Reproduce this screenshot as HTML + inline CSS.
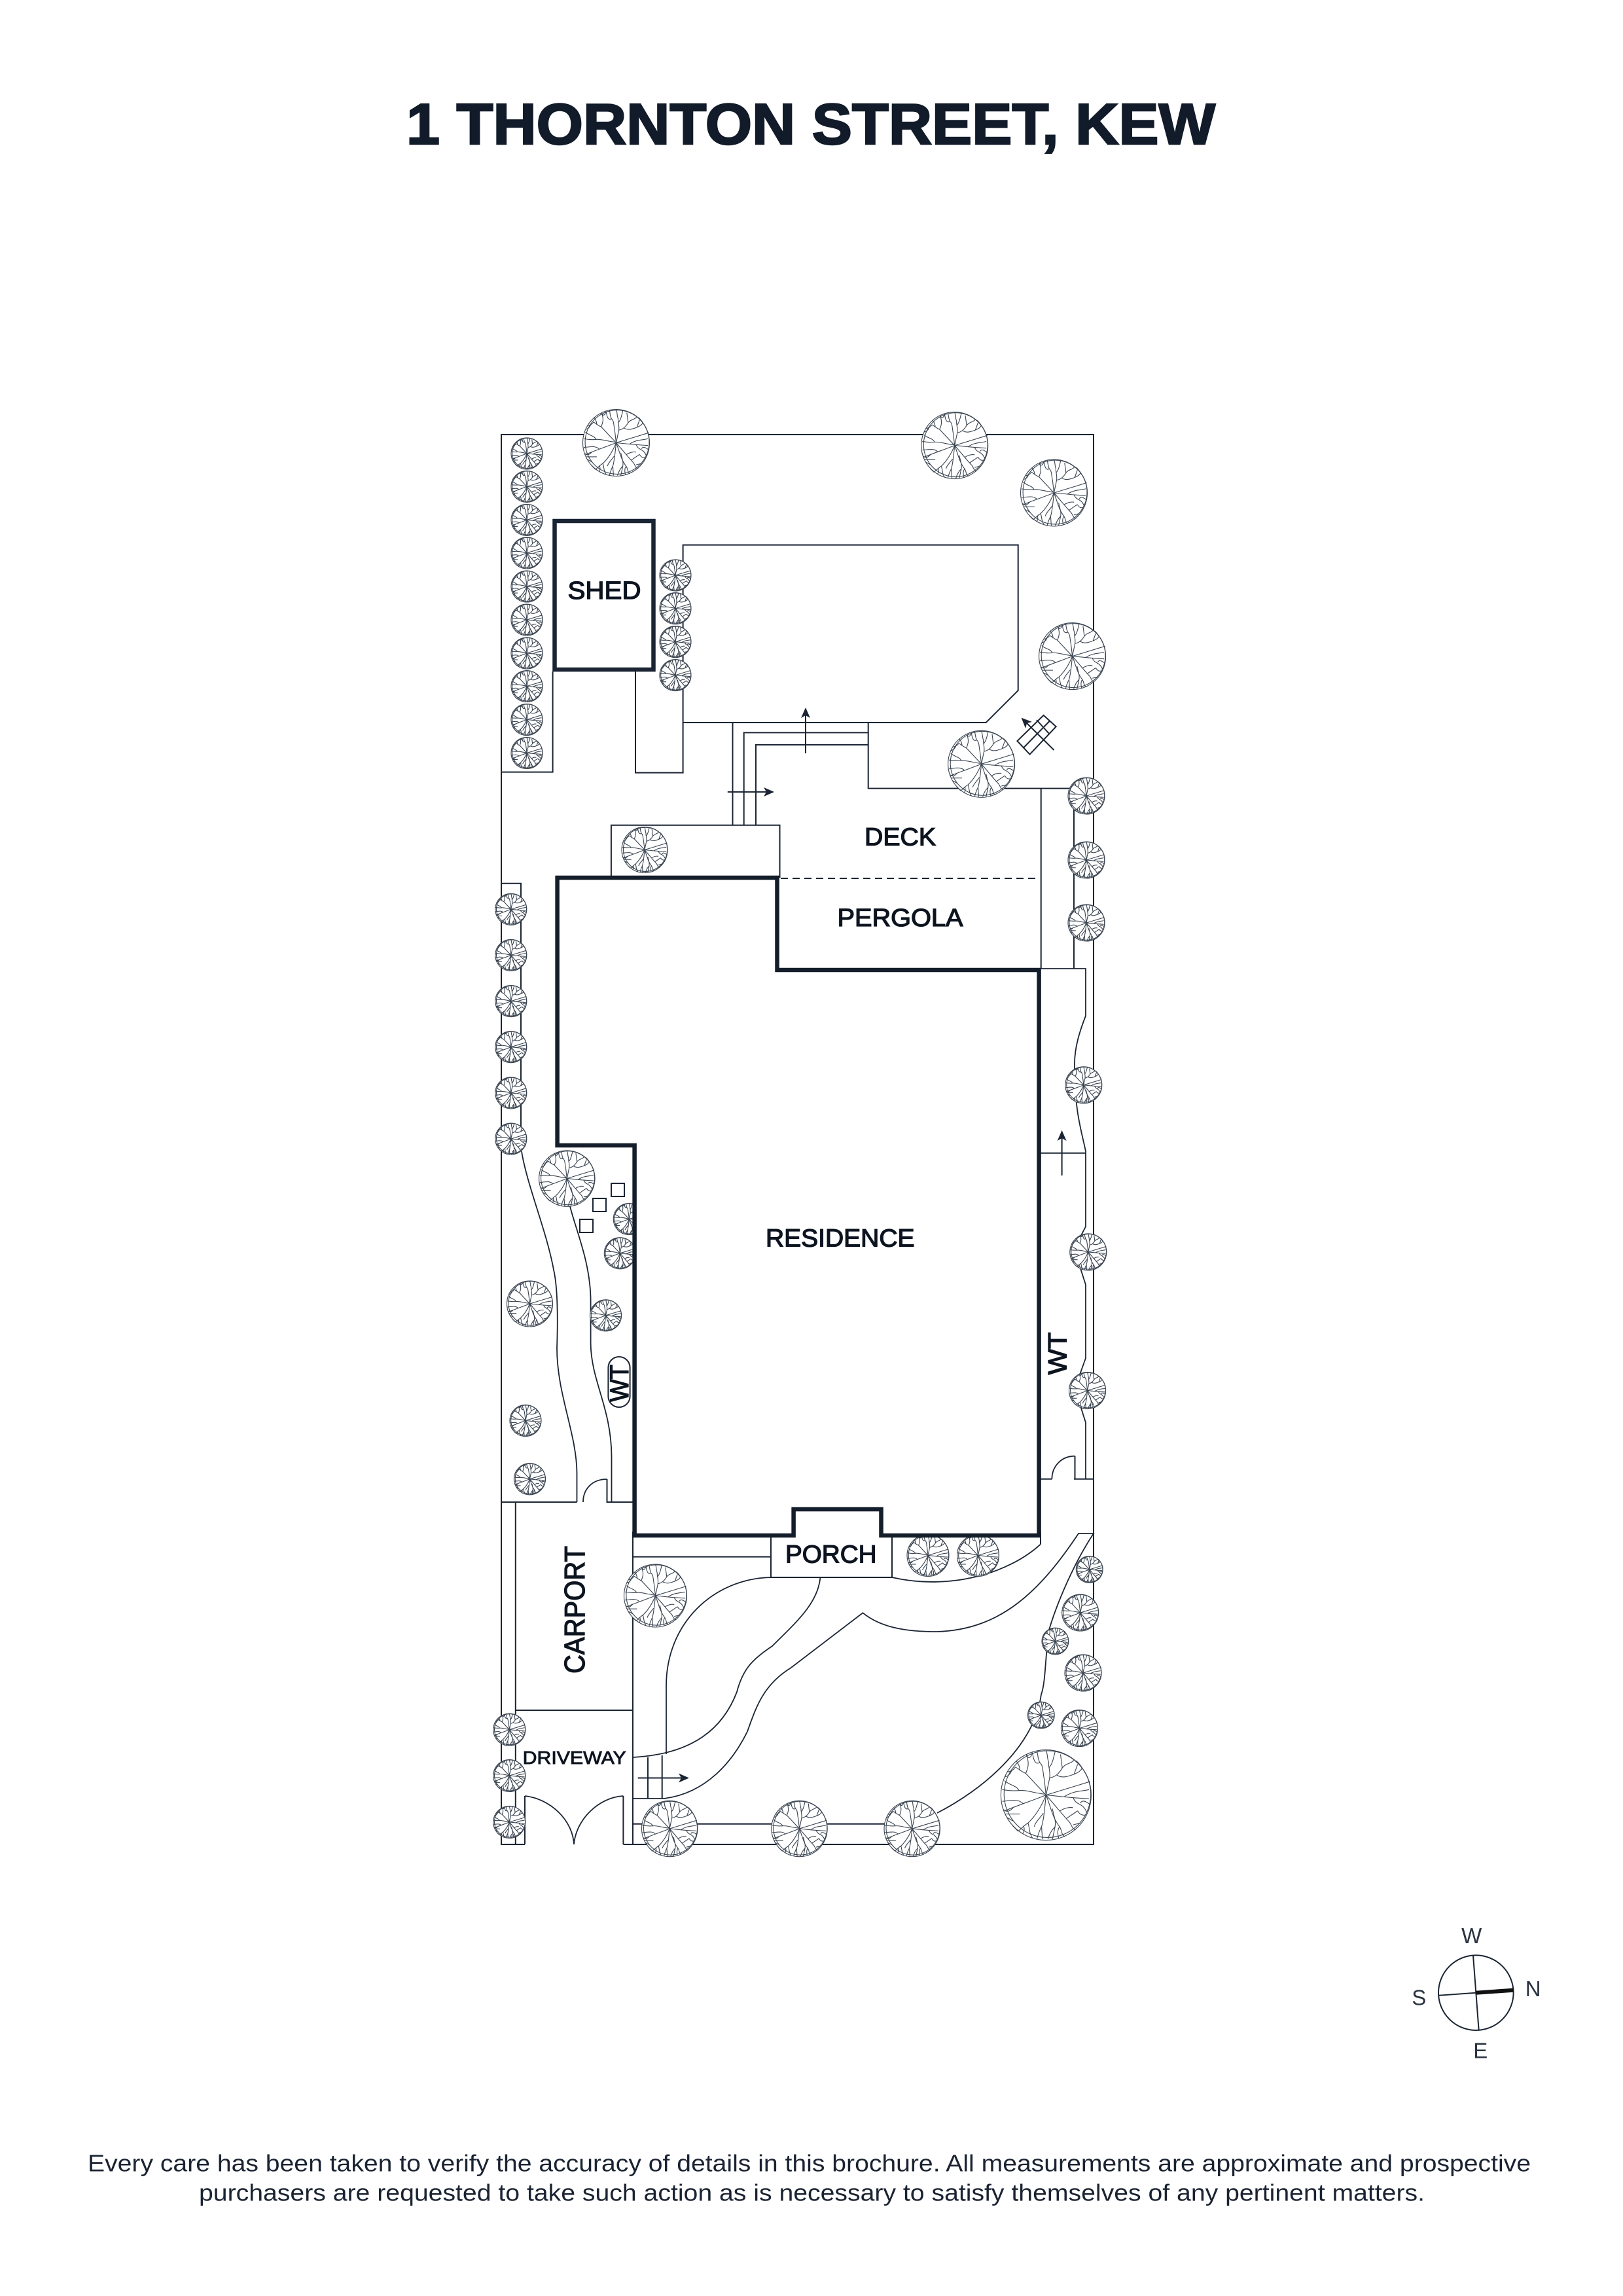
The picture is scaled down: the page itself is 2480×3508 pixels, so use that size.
<!DOCTYPE html>
<html>
<head>
<meta charset="utf-8">
<title>1 Thornton Street, Kew</title>
<style>
html,body{margin:0;padding:0;background:#fff;width:2480px;height:3508px;overflow:hidden}
svg{display:block}
text{font-family:"Liberation Sans",sans-serif;fill:#0d1420}
.l{font-size:38px;stroke:#0d1420;stroke-width:1.3px}
.ln{fill:none;stroke:#1a2433;stroke-width:2}
.c{fill:none;stroke:#1a2433;stroke-width:1.8}
.th{fill:none;stroke:#3a4450;stroke-width:1.1;vector-effect:non-scaling-stroke}
</style>
</head>
<body>
<svg width="2480" height="3508" viewBox="0 0 2480 3508">
<defs>
<marker id="a" viewBox="0 0 16 14" refX="14" refY="7" markerWidth="16" markerHeight="14" markerUnits="userSpaceOnUse" orient="auto"><path d="M0 0L16 7L0 14L4 7Z" fill="#1a2433"/></marker>
<g id="t">
<circle r="100" fill="#fff" stroke="#3a4450" stroke-width="1.1" vector-effect="non-scaling-stroke"/>
<circle cx="3" cy="-2" r="96" class="th"/>
<path class="th" d="M0 0L-4 -35C-8 -55 -6 -65 -14 -72C-18 -80 -18 -88 -20 -97M0 0L8 -38C10 -55 4 -65 6 -72C2 -82 4 -90 0 -99M6 -60C14 -68 16 -80 20 -96M-14 -72C-24 -66 -28 -78 -30 -94"/>
<path class="th" d="M0 0L-45 -48C-55 -52 -60 -58 -68 -62M-45 -48C-40 -60 -36 -70 -44 -90M-68 -62C-72 -55 -82 -50 -86 -52M-58 -54C-58 -66 -64 -72 -66 -76M-44 -90C-40 -80 -34 -80 -30 -94M-76 -56C-78 -46 -84 -42 -92 -40"/>
<path class="th" d="M-3 -2C-25 -4 -45 -12 -60 -10C-70 -9 -85 -10 -97 -12M-60 -10C-66 -22 -78 -20 -92 -32M0 0C-30 12 -60 22 -92 35M-50 20C-60 8 -75 12 -97 14M-72 27C-78 34 -86 40 -94 32"/>
<path class="th" d="M0 0C-10 25 -22 45 -40 62C-50 68 -55 75 -62 80M-40 62C-36 72 -38 85 -30 95M-62 80L-74 68M-58 42L-90 42M-72 58L-86 50M-50 68C-46 78 -50 84 -52 86"/>
<path class="th" d="M0 0C-3 30 -5 55 -10 70L-8 98M-10 70C-15 80 -18 88 -20 97M-6 40C-14 52 -24 60 -26 70"/>
<path class="th" d="M0 0C10 25 14 50 30 70C36 80 34 90 42 92M14 30C18 50 22 55 20 70L14 98M30 70C24 78 26 88 28 96M20 70C14 76 8 84 4 98"/>
<path class="th" d="M0 0C22 25 40 48 52 60C58 70 60 78 66 76M45 52L70 35M60 66L76 62M30 36C38 30 50 26 60 28M70 35C74 42 80 46 86 44"/>
<path class="th" d="M0 0L98 -30M0 0C25 2 50 6 95 8M40 4C60 -10 80 -8 95 -12M60 6C68 25 80 15 90 38M76 18C80 10 88 14 96 20"/>
<path class="th" d="M8 -38C22 -40 30 -50 36 -60C45 -72 55 -68 62 -78M36 -60L32 -90M24 -44C38 -36 50 -42 62 -46C70 -50 76 -52 80 -60M62 -46L70 -68M80 -60C76 -66 70 -74 66 -76"/>
</g>
</defs>

<!-- Title -->
<text x="621" y="220" font-size="88" font-weight="700" textLength="1236" lengthAdjust="spacingAndGlyphs" style="fill:#111b29;stroke:#111b29;stroke-width:2.5px">1 THORNTON STREET, KEW</text>

<!-- Outer boundary -->
<path class="ln" d="M802 2818H766V664H1671V2818H952.4"/>
<path class="ln" d="M802 2818V2744M952.4 2818V2744"/>
<path class="c" d="M802 2744C840 2748 875 2780 877 2818C880 2780 915 2746 952.4 2744" stroke-width="1.4"/>

<!-- Shed side -->
<path class="ln" d="M766 1179.6H844.6V1026M971 1026V1180.6H1043.6V832.6H1555.7V1055L1506.6 1104H1043.6"/>

<!-- Stairs -->
<path class="ln" d="M1119.5 1104V1260.7M1136.7 1260.7V1119.4H1326.7M1155 1260.7V1138H1326.7M1326.7 1104V1204.6H1660M1590.7 1204.6V1480M1641 1204.6V1480"/>
<path class="ln" stroke-width="1.6" d="M1231 1151V1083" marker-end="url(#a)"/>
<path class="ln" stroke-width="1.6" d="M1111.8 1210H1181" marker-end="url(#a)"/>

<!-- Terrace box + dashed -->
<path class="ln" d="M933.9 1341V1260.7H1191.5V1341"/>
<path class="ln" stroke-dasharray="11 7" stroke-width="1.6" d="M1193 1342H1587"/>

<!-- Drying symbol -->
<path class="ln" stroke-width="1.6" d="M1594.6 1092.9L1613.7 1110.2L1573.5 1152.6L1554.4 1132.1ZM1604 1101.5L1564 1142.5M1584 1100L1604 1122"/>
<path class="ln" stroke-width="1.6" d="M1610.5 1146L1562 1098" marker-end="url(#a)"/>

<!-- Left fence -->
<path class="ln" d="M766 1349.7H796V1740"/>

<!-- Right side -->
<path class="c" d="M1590.7 1480H1659V1552C1650 1575 1642 1600 1642 1625C1642 1700 1652 1725 1659 1759V1874L1648 1895M1650 1935L1659 1963V2075L1650 2100M1650 2145L1659 2173.7V2259.8"/>
<path class="ln" d="M1590 1761.7H1659M1641 2259.8H1671M1642.5 2224.7V2259.8M1587 2259.8H1607.4"/>
<path class="c" stroke-width="1.4" d="M1642.5 2224.7C1622 2224.7 1607.4 2240 1607.4 2259.8"/>
<path class="ln" stroke-width="1.6" d="M1622.6 1796V1729" marker-end="url(#a)"/>

<!-- Left garden -->
<path class="c" d="M797 1759C805 1810 835 1880 846 1940C853 1970 852 2030 851 2060C851 2130 881 2190 881.5 2250V2295"/>
<path class="c" d="M870.7 1842C880 1880 903 1930 902.6 1990V2052C903 2110 934 2150 934.5 2225V2295"/>
<path class="ln" d="M766 2295H881.6M927.5 2260V2295H967"/>
<path class="c" stroke-width="1.4" d="M927.5 2260C905 2260 891 2275 891 2295"/>
<rect x="934" y="1808" width="20" height="20" class="ln"/>
<rect x="906" y="1831" width="20" height="20" class="ln"/>
<rect x="886" y="1863" width="20" height="20" class="ln"/>
<rect x="929.4" y="2073" width="33.2" height="77" rx="16.6" class="ln"/>

<!-- Carport -->
<path class="ln" d="M787.8 2295V2818M787.8 2613H967M967 2340V2818"/>

<!-- Porch & paths -->
<path class="ln" d="M967 2378.6H1178M1178 2348V2410H1363V2348M1590 2340V2359.4"/>
<path class="c" d="M1590 2359.4C1540 2405 1450 2430 1363 2410"/>
<path class="c" d="M1178 2410C1090 2412 1018 2480 1018 2576V2680"/>
<path class="c" d="M967 2685C1060 2680 1105 2640 1126 2585C1135 2550 1150 2535 1180 2515C1215 2480 1250 2450 1253.4 2410"/>
<path class="c" d="M967 2748H1014C1080 2740 1120 2690 1141.8 2646C1155 2610 1165 2575 1208.8 2548L1318.4 2464.3C1350 2490 1395 2493 1432 2493C1530 2490 1590 2430 1648 2343H1671C1640 2390 1615 2450 1603 2490C1597 2530 1598 2570 1591 2589C1580 2670 1500 2735 1432 2770"/>
<path class="ln" stroke-width="1.6" d="M990 2685V2748M1011.7 2682V2748"/>
<path class="ln" stroke-width="1.6" d="M974.7 2716.5H1051" marker-end="url(#a)"/>
<path class="ln" d="M967 2786.7H1352"/>

<!-- Trees -->
<use href="#t" transform="translate(941.5 676.5) scale(.51)"/>
<use href="#t" transform="translate(1458.7 680.6) scale(.51)"/>
<use href="#t" transform="translate(1610.5 753) scale(.51)"/>
<use href="#t" transform="translate(1638.6 1002.6) scale(.51)"/>
<use href="#t" transform="translate(1499.6 1167.3) scale(.51)"/>
<use href="#t" transform="translate(805 692.9) scale(.24)"/>
<use href="#t" transform="translate(805 743.4) scale(.24)"/>
<use href="#t" transform="translate(805 794.4) scale(.24)"/>
<use href="#t" transform="translate(805 844.9) scale(.24)"/>
<use href="#t" transform="translate(805 896) scale(.24)"/>
<use href="#t" transform="translate(805 947) scale(.24)"/>
<use href="#t" transform="translate(805 998) scale(.24)"/>
<use href="#t" transform="translate(805 1048.5) scale(.24)"/>
<use href="#t" transform="translate(805 1099.5) scale(.24)"/>
<use href="#t" transform="translate(805 1150.5) scale(.24)"/>
<use href="#t" transform="translate(1032 879) scale(.24)"/>
<use href="#t" transform="translate(1032 929.6) scale(.24)"/>
<use href="#t" transform="translate(1032 980.6) scale(.24)"/>
<use href="#t" transform="translate(1032 1031.6) scale(.24)"/>
<use href="#t" transform="translate(1660 1216) scale(.28)"/>
<use href="#t" transform="translate(1660 1314) scale(.28)"/>
<use href="#t" transform="translate(1660 1410) scale(.28)"/>
<use href="#t" transform="translate(985 1298.5) scale(.35)"/>
<use href="#t" transform="translate(780.8 1389.3) scale(.24)"/>
<use href="#t" transform="translate(780.8 1459.4) scale(.24)"/>
<use href="#t" transform="translate(780.8 1529.6) scale(.24)"/>
<use href="#t" transform="translate(780.8 1599.7) scale(.24)"/>
<use href="#t" transform="translate(780.8 1669.9) scale(.24)"/>
<use href="#t" transform="translate(780.8 1740) scale(.24)"/>
<use href="#t" transform="translate(866.3 1800.6) scale(.427)"/>
<use href="#t" transform="translate(961.3 1862.5) scale(.24)"/>
<use href="#t" transform="translate(947.3 1914.8) scale(.24)"/>
<use href="#t" transform="translate(809.5 1992) scale(.35)"/>
<use href="#t" transform="translate(925.6 2009.8) scale(.24)"/>
<use href="#t" transform="translate(803 2170.5) scale(.24)"/>
<use href="#t" transform="translate(809.5 2259.8) scale(.24)"/>
<use href="#t" transform="translate(1655.8 1657.8) scale(.28)"/>
<use href="#t" transform="translate(1662.8 1912.9) scale(.28)"/>
<use href="#t" transform="translate(1661.6 2124.6) scale(.28)"/>
<use href="#t" transform="translate(1023.2 2794) scale(.427)"/>
<use href="#t" transform="translate(1221.5 2794) scale(.427)"/>
<use href="#t" transform="translate(1393.7 2794) scale(.427)"/>
<use href="#t" transform="translate(1598.4 2742.6) scale(.69)"/>
<use href="#t" transform="translate(1664.7 2398) scale(.204)"/>
<use href="#t" transform="translate(1650.7 2464) scale(.28)"/>
<use href="#t" transform="translate(1612.4 2507.6) scale(.204)"/>
<use href="#t" transform="translate(1655 2556) scale(.28)"/>
<use href="#t" transform="translate(1590.8 2620.6) scale(.204)"/>
<use href="#t" transform="translate(1649.4 2640.6) scale(.28)"/>
<use href="#t" transform="translate(778.3 2642.7) scale(.245)"/>
<use href="#t" transform="translate(778.3 2713) scale(.245)"/>
<use href="#t" transform="translate(778.3 2784) scale(.245)"/>
<use href="#t" transform="translate(1001.5 2438) scale(.48)"/>
<use href="#t" transform="translate(1418 2376.5) scale(.32)"/>
<use href="#t" transform="translate(1494.5 2376.5) scale(.32)"/>

<!-- Shed -->
<rect x="847.5" y="796" width="151" height="227" fill="#fff" stroke="#1a2433" stroke-width="6.5"/>

<!-- Residence -->
<path d="M851.6 1341H1187.5V1482H1587.6V2346H1346.5V2306H1212.6V2346H969.6V1750H851.6Z" fill="#fff" stroke="#141d2a" stroke-width="6.5" stroke-linejoin="miter"/>

<!-- Labels -->
<text class="l" x="867.5" y="915" textLength="112" lengthAdjust="spacingAndGlyphs">SHED</text>
<text class="l" x="1321" y="1291.5" textLength="109" lengthAdjust="spacingAndGlyphs">DECK</text>
<text class="l" x="1279.5" y="1415" textLength="192" lengthAdjust="spacingAndGlyphs">PERGOLA</text>
<text class="l" x="1170" y="1904.5" textLength="227.5" lengthAdjust="spacingAndGlyphs">RESIDENCE</text>
<text class="l" x="1200" y="2387.5" textLength="139.5" lengthAdjust="spacingAndGlyphs">PORCH</text>
<text class="l" x="798.7" y="2695" textLength="158" lengthAdjust="spacingAndGlyphs" style="font-size:28px;stroke-width:.9px">DRIVEWAY</text>
<text class="l" transform="translate(893 2557) rotate(-90)" textLength="195" lengthAdjust="spacingAndGlyphs" style="font-size:44px">CARPORT</text>
<text class="l" transform="translate(1629.6 2100.4) rotate(-90)" textLength="65" lengthAdjust="spacingAndGlyphs" style="font-size:40px">WT</text>
<text class="l" transform="translate(960 2141.8) rotate(-90)" textLength="57" lengthAdjust="spacingAndGlyphs" style="font-size:40px">WT</text>

<!-- Compass -->
<circle cx="2255.3" cy="3044.7" r="57.3" fill="none" stroke="#1a2433" stroke-width="2"/>
<path class="ln" d="M2251 2987.7L2259.7 3102M2199 3048.7L2255.3 3044.7"/>
<path d="M2255.3 3044.7L2312.7 3040.7" stroke="#111" stroke-width="6" fill="none"/>
<g style="font-size:33px">
<text x="2248.7" y="2969" text-anchor="middle" style="fill:#2a3340">W</text>
<text x="2342.7" y="3050" text-anchor="middle" style="fill:#2a3340">N</text>
<text x="2168.3" y="3063.5" text-anchor="middle" style="fill:#2a3340">S</text>
<text x="2262.3" y="3144.5" text-anchor="middle" style="fill:#2a3340">E</text>
</g>

<!-- Footer -->
<text x="134" y="3317.7" font-size="36" textLength="2205" lengthAdjust="spacingAndGlyphs" style="fill:#1a2332">Every care has been taken to verify the accuracy of details in this brochure. All measurements are approximate and prospective</text>
<text x="304" y="3362.7" font-size="36" textLength="1873" lengthAdjust="spacingAndGlyphs" style="fill:#1a2332">purchasers are requested to take such action as is necessary to satisfy themselves of any pertinent matters.</text>
</svg>
</body>
</html>
